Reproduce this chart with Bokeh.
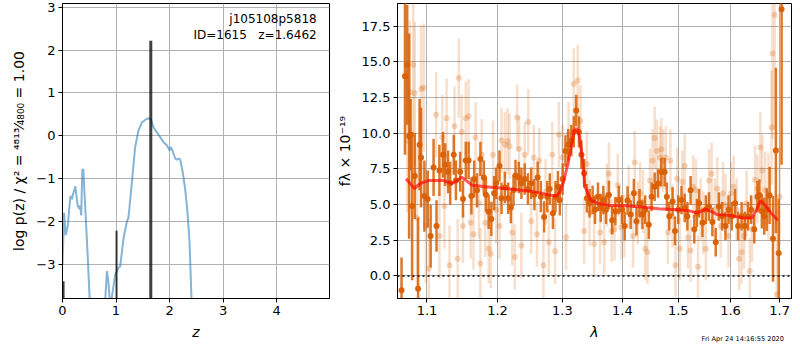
from bokeh.plotting import figure
from bokeh.layouts import row, column
from bokeh.models import (ColumnDataSource, Label, Span, FixedTicker,
                          CustomJSTickFormatter, Range1d, Div)
from bokeh.embed import file_html
from bokeh.resources import INLINE

# ---------------- left panel data: log p(z) ----------------
pz_z = [0.0, 0.03, 0.06, 0.10, 0.125, 0.15, 0.175, 0.205, 0.24, 0.28, 0.31, 0.33,
        0.35, 0.37, 0.39, 0.42, 0.47, 0.52, 0.60, 0.75, 0.80, 0.83, 0.855, 0.88,
        0.90, 0.92, 0.985, 1.047, 1.078, 1.14, 1.20, 1.234, 1.296, 1.358, 1.42,
        1.483, 1.545, 1.607, 1.65, 1.70, 1.763, 1.826, 1.888, 1.95, 2.0, 2.025,
        2.062, 2.106, 2.137, 2.168, 2.20, 2.25, 2.293, 2.336, 2.374, 2.41, 2.45, 2.6]
pz_logp = [-3.0, -1.80, -2.32, -2.09, -1.71, -1.40, -1.48, -1.33, -1.18, -1.60, -1.71, -1.63,
           -1.86, -0.79, -0.79, -1.56, -2.78, -4.15, -6.0, -6.0, -3.79, -3.16, -3.39, -3.79,
           -4.5, -3.79, -3.24, -3.08, -3.05, -2.40, -2.02, -1.90, -1.10, -0.26, 0.12,
           0.31, 0.37, 0.41, 0.39, 0.20, 0.08, -0.03, -0.15, -0.22, -0.34, -0.26,
           -0.37, -0.53, -0.56, -0.53, -0.56, -0.87, -1.25, -1.79, -2.47, -3.79, -5.0, -8.0]

peak_z = [0.02, 1.01, 1.65]
peak_logp = [-3.40, -2.22, 2.22]
peak_lw = [2, 2, 3]

# ---------------- right panel data: spectrum ----------------
dark_lam = [1.066, 1.0705, 1.0735, 1.076, 1.078, 1.080, 1.0835, 1.088, 1.090, 1.092, 1.0965,
            1.101, 1.105, 1.109, 1.113, 1.117, 1.122, 1.125, 1.129, 1.132, 1.137, 1.140,
            1.146, 1.150, 1.154, 1.158, 1.162, 1.166, 1.170, 1.175, 1.180, 1.183, 1.187,
            1.191, 1.195, 1.198, 1.203, 1.206, 1.211, 1.216, 1.220, 1.224, 1.227, 1.232,
            1.236, 1.241, 1.246, 1.251, 1.256, 1.261, 1.266, 1.271, 1.276, 1.280, 1.285,
            1.289, 1.293, 1.296, 1.3005, 1.305, 1.3095, 1.3145, 1.3185, 1.3225, 1.327,
            1.331, 1.3355, 1.340, 1.3445, 1.3495, 1.3535, 1.3585, 1.363, 1.3675, 1.372,
            1.377, 1.3825, 1.388, 1.394, 1.3995, 1.404, 1.409, 1.4145, 1.420, 1.4245,
            1.430, 1.435, 1.440, 1.4465, 1.4515, 1.457, 1.463, 1.469, 1.475, 1.479,
            1.4835, 1.4895, 1.494, 1.500, 1.506, 1.512, 1.517, 1.523, 1.530, 1.535,
            1.539, 1.5455, 1.552, 1.558, 1.5645, 1.571, 1.577, 1.5835, 1.590, 1.596,
            1.6025, 1.609, 1.615, 1.622, 1.6285, 1.635, 1.641, 1.6475, 1.654, 1.658,
            1.663, 1.668, 1.673, 1.679, 1.686, 1.692, 1.698, 1.704]
dark_flux = [-1.0, 14.0, 14.8, 9.8, 9.9, 4.9, 7.0, -0.9, 9.2, 8.3, 5.6,
             5.4, 2.8, 7.6, 3.5, 7.4, 8.5, 7.8, 7.3, 6.5, 8.5, 6.7,
             7.3, 5.4, 8.1, 8.1, 5.6, 6.8, 6.0, 8.2, 6.9, 5.7, 4.5,
             4.0, 5.8, 6.5, 7.7, 5.45, 6.2, 5.45, 4.8, 6.0, 7.05, 6.9,
             6.5, 6.8, 6.1, 6.5, 5.7, 6.9, 5.56, 4.14, 5.56, 6.1, 4.4,
             5.56, 6.25, 5.33, 6.8, 8.76, 9.2, 9.5, 10.1, 11.6, 10.1,
             8.5, 7.2, 5.45, 5.1, 5.33, 4.65, 5.56, 4.76, 5.33, 4.65,
             5.68, 3.9, 4.53, 5.33, 4.65, 3.5, 5.29, 4.3, 5.79, 3.84,
             5.1, 4.3, 4.65, 3.59, 5.56, 6.25, 6.48, 7.28, 7.28, 5.56,
             4.19, 5.22, 3.16, 4.65, 5.33, 4.76, 4.19, 6.0, 3.27, 4.42,
             5.1, 3.73, 4.65, 4.87, 3.78, 2.36, 4.87, 4.19, 3.5, 4.65,
             4.19, 5.1, 3.5, 4.19, 3.5, 4.19, 4.65, 3.27, 5.56, 5.68,
             4.53, 4.19, 4.65, 5.65, 2.6, 8.8, 1.6, 18.7]
dark_err = [2.3, 5.5, 4.2, 7.2, 2.5, 5.2, 3.0, 5.0, 3.2, 3.5, 2.5,
            2.0, 2.2, 2.0, 1.8, 1.8, 1.6, 1.5, 1.5, 1.5, 1.4, 1.4,
            1.4, 1.3, 1.3, 1.3, 1.3, 1.3, 1.2, 1.2, 1.2, 1.2, 1.2,
            1.2, 1.2, 1.1, 1.1, 1.1, 1.1, 1.1, 1.1, 1.1, 1.1, 1.1,
            1.1, 1.1, 1.1, 1.1, 1.1, 1.1, 1.1, 1.1, 1.1, 1.1, 1.1,
            1.1, 1.1, 1.1, 1.1, 1.1, 1.1, 1.1, 1.1, 1.1, 1.1,
            1.0, 1.0, 1.0, 1.0, 1.0, 1.0, 1.0, 1.0, 1.0, 1.0,
            1.0, 1.0, 1.0, 1.0, 1.0, 1.0, 1.0, 1.0, 1.0, 1.0,
            1.0, 1.0, 1.0, 1.0, 1.0, 1.0, 1.0, 1.0, 1.0, 1.0,
            1.0, 1.0, 1.0, 1.0, 1.0, 1.0, 1.0, 1.0, 1.0, 1.0,
            1.0, 1.0, 1.0, 1.0, 1.0, 1.0, 1.0, 1.0, 1.0, 1.0,
            1.0, 1.0, 1.0, 1.0, 1.0, 1.0, 1.0, 1.0, 1.1, 1.1,
            1.2, 1.3, 1.5, 2.0, 3.0, 5.8, 3.8, 10.9]

light_lam = [1.0735, 1.077, 1.0815, 1.0835, 1.0865, 1.092, 1.0955, 1.0985, 1.1025,
             1.1125, 1.117, 1.121, 1.124, 1.127, 1.131, 1.138, 1.1425, 1.144, 1.148,
             1.150, 1.154, 1.158, 1.161, 1.165, 1.168, 1.173, 1.175, 1.177, 1.182,
             1.187, 1.190, 1.1935, 1.198, 1.203, 1.206, 1.211, 1.215, 1.218, 1.222,
             1.226, 1.2295, 1.2325, 1.236, 1.241, 1.2465, 1.251, 1.255, 1.260, 1.2635,
             1.270, 1.2735, 1.2785, 1.284, 1.2885, 1.2945, 1.3005, 1.306, 1.310, 1.3185,
             1.325, 1.3295, 1.3355, 1.340, 1.3445, 1.352, 1.362, 1.369, 1.3735, 1.377,
             1.3815, 1.3865, 1.392, 1.398, 1.4035, 1.411, 1.4185, 1.4215, 1.427, 1.431,
             1.436, 1.440, 1.444, 1.4485, 1.453, 1.457, 1.461, 1.4665, 1.469, 1.472,
             1.477, 1.481, 1.4855, 1.4895, 1.495, 1.498, 1.503, 1.5075, 1.512, 1.518,
             1.523, 1.528, 1.533, 1.537, 1.542, 1.547, 1.552, 1.558, 1.563, 1.569,
             1.574, 1.5805, 1.585, 1.590, 1.596, 1.601, 1.606, 1.612, 1.617, 1.622,
             1.627, 1.632, 1.6385, 1.643, 1.649, 1.654, 1.660, 1.664, 1.670, 1.6765,
             1.683, 1.685, 1.6895, 1.694, 1.700]
light_flux = [9.45, 12.9, 14.8, 12.8, 4.07, 13.1, 13.2, 3.5, 0.53,
              11.3, 2.8, 9.7, 4.9, 11.05, 0.75, 10.5, 1.2, 13.87, 10.1,
              3.5, 11.05, 11.2, 3.73, 2.93, 9.7, 5.1, 0.87, 8.5, 3.73,
              1.9, 1.56, 8.5, 4.65, 3.5, 9.5, 9.2, 9.45, 9.1, 3.04,
              1.33, 11.1, 8.9, 2.13, 8.5, 10.8, 3.84, 8.3, 2.93, 8.08,
              0.75, 5.9, 2.36, 8.5, 1.74, 9.9, 8.3, 2.72, 9.9, 13.46,
              13.7, 10.87, 3.16, 7.85, 4.42, 2.24, 3.04, 2.36, 5.68, 7.16,
              3.16, 3.27, 6.36, 3.39, 3.5, 5.56, 2.8, 7.96, 4.42, 5.79,
              5.22, 1.9, 1.67, 6.7, 8.08, 9.68, 8.76, 8.3, 8.88, 8.08,
              8.3, 3.04, 8.08, 4.19, 0.75, 6.82, 1.9, 6.59, 7.73, 2.7,
              1.78, 6.25, 6.0, 0.64, 4.65, 3.73, 1.9, 6.7, 7.16, 4.65,
              6.13, 3.5, 5.79, 4.99, 2.8, 5.79, 6.25, 4.65, 1.2, 1.67,
              2.8, 5.1, 0.34, 3.27, 6.75, 6.13, 9.0, 7.4, 6.0, 5.56,
              10.4, 15.6, 18.3, -1.3, 5.56]
light_err = [5.0, 5.0, 5.0, 5.0, 5.0, 4.5, 4.5, 4.0, 3.5,
             3.0, 3.0, 3.0, 3.0, 2.8, 2.8, 2.8, 2.8, 2.8, 2.6,
             2.6, 2.6, 2.6, 2.5, 2.5, 2.5, 2.5, 2.5, 2.5, 2.4,
             2.4, 2.4, 2.4, 2.4, 2.3, 2.3, 2.3, 2.3, 2.3, 2.3,
             2.3, 2.3, 2.3, 2.3, 2.3, 2.3, 2.3, 2.3, 2.3, 2.3,
             2.3, 2.3, 2.3, 2.3, 2.3, 2.3, 2.3, 2.3, 2.3, 2.5,
             2.5, 2.5, 2.3, 2.3, 2.3, 2.2, 2.2, 2.2, 2.2, 2.2,
             2.2, 2.2, 2.2, 2.2, 2.2, 2.2, 2.2, 2.2, 2.2, 2.2,
             2.2, 2.2, 2.2, 2.2, 2.2, 2.2, 2.2, 2.2, 2.2, 2.2,
             2.2, 2.2, 2.2, 2.2, 2.2, 2.2, 2.2, 2.2, 2.2, 2.2,
             2.2, 2.2, 2.2, 2.2, 2.2, 2.2, 2.2, 2.2, 2.2, 2.2,
             2.2, 2.2, 2.2, 2.2, 2.2, 2.2, 2.2, 2.2, 2.2, 2.2,
             2.3, 2.3, 2.3, 2.3, 2.4, 2.4, 2.5, 2.5, 2.7, 3.0,
             4.0, 6.0, 8.0, 6.0, 3.5]

model_lam = [1.072, 1.083, 1.091, 1.103, 1.121, 1.135, 1.142, 1.148, 1.153, 1.163,
             1.182, 1.200, 1.226, 1.255, 1.279, 1.291, 1.296, 1.302, 1.310, 1.319,
             1.323, 1.328, 1.333, 1.337, 1.346, 1.357, 1.377, 1.407, 1.434, 1.464,
             1.500, 1.524, 1.536, 1.552, 1.562, 1.574, 1.600, 1.626, 1.643, 1.652,
             1.660, 1.669, 1.682, 1.696]
model_flux = [6.82, 6.13, 6.48, 6.70, 6.70, 6.48, 6.70, 6.93, 6.75, 6.36,
              6.25, 6.18, 6.06, 5.90, 5.68, 5.61, 5.90, 6.59, 8.08, 10.14,
              10.37, 9.79, 8.08, 6.25, 5.33, 5.10, 4.94, 4.92, 4.83, 4.71,
              4.65, 4.53, 4.42, 4.69, 4.53, 4.30, 4.23, 4.07, 4.07, 4.65,
              5.29, 4.99, 4.42, 3.91]

obj_name = "j105108p5818"
obj_info = "ID=1615\u00a0\u00a0\u00a0z=1.6462"
timestamp = "Fri Apr 24 14:16:55 2020"

# ---------------- styling ----------------
FONT = "DejaVu Sans"
ORANGE = "#d95f02"
GRID = "#b0b0b0"


def style(p):
    p.outline_line_color = "black"
    p.outline_line_width = 1
    p.outline_line_alpha = 1
    for ax in (p.xaxis[0], p.yaxis[0]):
        ax.major_label_text_font = FONT
        ax.major_label_text_font_size = "13px"
        ax.major_label_text_color = "black"
        ax.axis_label_text_font = FONT
        ax.axis_label_text_font_size = "14px"
        ax.axis_label_text_color = "black"
        ax.axis_line_color = "black"
        ax.major_tick_line_color = "black"
        ax.major_tick_out = 4
        ax.major_tick_in = 0
        ax.minor_tick_line_color = None
        ax.axis_label_standoff = 6
        ax.major_label_standoff = 3
    p.xgrid.grid_line_color = GRID
    p.ygrid.grid_line_color = GRID
    p.xgrid.grid_line_width = 1
    p.ygrid.grid_line_width = 1
    p.background_fill_color = "white"
    p.border_fill_color = "white"


# ---------------- left panel ----------------
p1 = figure(width=333, height=342, output_backend="svg", toolbar_location=None,
            x_range=Range1d(0, 4.99), y_range=Range1d(-3.8, 3.09),
            min_border_left=62, min_border_right=4, min_border_top=3,
            min_border_bottom=38)
style(p1)
t1 = FixedTicker(ticks=[0, 1, 2, 3, 4], minor_ticks=[])
p1.xaxis[0].ticker = t1
p1.xgrid[0].ticker = t1
t2 = FixedTicker(ticks=[-3, -2, -1, 0, 1, 2, 3], minor_ticks=[])
p1.yaxis[0].ticker = t2
p1.ygrid[0].ticker = t2
p1.yaxis[0].formatter = CustomJSTickFormatter(
    code="return (tick < 0 ? '\u2212' : '') + Math.abs(tick).toFixed(0);")
p1.xaxis[0].axis_label = "z"
p1.xaxis[0].axis_label_text_font_style = "italic"
p1.yaxis[0].axis_label = "log p(z) / \u03c7\u00b2 = \u2074\u2078\u00b9\u00b3\u2044\u2084\u2088\u2080\u2080 = 1.00"
p1.yaxis[0].axis_label_text_font_style = "normal"

p1.line(pz_z, pz_logp, line_color="#1f77b4", line_alpha=0.55, line_width=2)
src_peak = ColumnDataSource(dict(x=peak_z, top=peak_logp, lw=peak_lw,
                                 bot=[-10] * len(peak_z)))
p1.segment(x0="x", y0="bot", x1="x", y1="top", source=src_peak,
           line_color="black", line_alpha=0.75, line_width="lw")

p1.add_layout(Label(x=4.75, y=2.72, text=obj_name, text_align="right",
                    text_baseline="middle", text_font=FONT,
                    text_font_size="12px", text_color="black"))
p1.add_layout(Label(x=4.75, y=2.35, text=obj_info, text_align="right",
                    text_baseline="middle", text_font=FONT,
                    text_font_size="12px", text_color="black"))

# ---------------- right panel ----------------
p2 = figure(width=459, height=342, output_backend="svg", toolbar_location=None,
            x_axis_type="log",
            x_range=Range1d(1.0607, 1.725), y_range=Range1d(-1.58, 19.1),
            min_border_left=64, min_border_right=1, min_border_top=3,
            min_border_bottom=38)
style(p2)
t3 = FixedTicker(ticks=[1.1, 1.2, 1.3, 1.4, 1.5, 1.6, 1.7], minor_ticks=[])
p2.xaxis[0].ticker = t3
p2.xgrid[0].ticker = t3
p2.xaxis[0].formatter = CustomJSTickFormatter(code="return tick.toFixed(1);")
t4 = FixedTicker(ticks=[0, 2.5, 5, 7.5, 10, 12.5, 15, 17.5], minor_ticks=[])
p2.yaxis[0].ticker = t4
p2.ygrid[0].ticker = t4
p2.yaxis[0].formatter = CustomJSTickFormatter(
    code="return (tick < 0 ? '\u2212' : '') + Math.abs(tick).toFixed(1);")
p2.xaxis[0].axis_label = "\u03bb"
p2.xaxis[0].axis_label_text_font_style = "italic"
p2.yaxis[0].axis_label = "f\u03bb \u00d7 10\u207b\u00b9\u2079"
p2.yaxis[0].axis_label_text_font_style = "normal"

light = ColumnDataSource(dict(
    x=light_lam, y=light_flux,
    lo=[f - e for f, e in zip(light_flux, light_err)],
    hi=[f + e for f, e in zip(light_flux, light_err)]))
dark = ColumnDataSource(dict(
    x=dark_lam, y=dark_flux,
    lo=[f - e for f, e in zip(dark_flux, dark_err)],
    hi=[f + e for f, e in zip(dark_flux, dark_err)]))

p2.segment(x0="x", y0="lo", x1="x", y1="hi", source=light,
           line_color=ORANGE, line_alpha=0.2, line_width=2.5)
p2.scatter(x="x", y="y", source=light, size=6, fill_color=ORANGE,
           fill_alpha=0.25, line_color=None)
p2.segment(x0="x", y0="lo", x1="x", y1="hi", source=dark,
           line_color=ORANGE, line_alpha=0.85, line_width=2.5)
p2.scatter(x="x", y="y", source=dark, size=6, fill_color=ORANGE,
           fill_alpha=0.95, line_color=None)
p2.line(model_lam, model_flux, line_color="red", line_alpha=0.65, line_width=3)

p2.add_layout(Span(location=0, dimension="width", line_color="black",
                   line_width=1.5, line_dash="2 3"))

stamp = Div(text=timestamp, width=92, height=8, margin=(-7, 0, 0, 692),
            styles={"font-family": FONT, "font-size": "6.6px",
                    "line-height": "8px", "white-space": "nowrap",
                    "text-align": "right", "color": "black",
                    "overflow": "visible"})

layout = column(row(p1, p2), stamp, spacing=0)
open("out.html", "w").write(file_html(layout, INLINE))
